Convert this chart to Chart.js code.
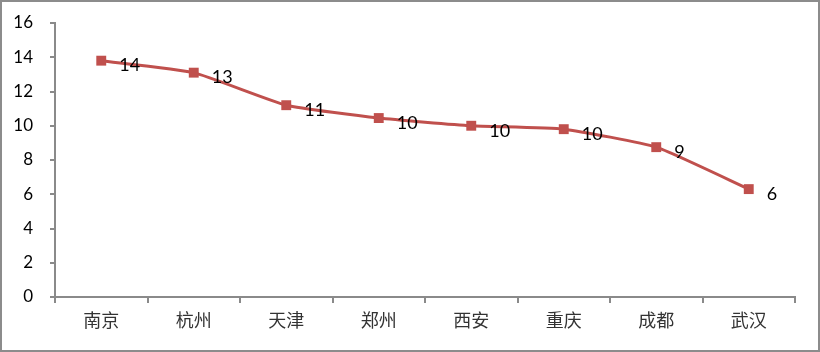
<!DOCTYPE html>
<html><head><meta charset="utf-8">
<script src="https://cdn.jsdelivr.net/npm/chart.js@4/dist/chart.umd.min.js"></script>
<style>html,body{margin:0;padding:0;background:#fff}#wrap{width:820px;height:352px;position:relative}</style>
</head><body><div id="wrap"><canvas id="c" width="820" height="352"></canvas></div>
<script>
const categories = ['南京','杭州','天津','郑州','西安','重庆','成都','武汉'];
const values = [13.8, 13.1, 11.2, 10.45, 10.0, 9.8, 8.75, 6.3];
const valueLabels = ['14','13','11','10','10','10','9','6'];
const yTicks = [0,2,4,6,8,10,12,14,16];

const FONT = "Lato, 'Noto Sans CJK SC', sans-serif";
const AXIS = '#8a8a8a';

const frame = {
  id:'frame',
  afterDraw(chart){
    const ctx = chart.ctx;
    ctx.save();
    ctx.strokeStyle = '#8c8c8c';
    ctx.lineWidth = 2;
    ctx.strokeRect(1,1,chart.width-2,chart.height-2);
    ctx.restore();
  }
};
const valueLabelPlugin = {
  id:'valueLabels',
  afterDatasetsDraw(chart){
    const ctx = chart.ctx;
    const meta = chart.getDatasetMeta(0);
    ctx.save();
    ctx.font = "18px " + FONT;
    ctx.fillStyle = '#000';
    ctx.textAlign = 'left';
    ctx.textBaseline = 'middle';
    meta.data.forEach((pt,i)=>{
      ctx.fillText(valueLabels[i], pt.x + 18, pt.y + 5);
    });
    ctx.restore();
  }
};

new Chart(document.getElementById('c'), {
  type:'line',
  data:{
    labels: categories,
    datasets:[{
      data: values,
      borderColor:'#C0504D',
      backgroundColor:'#C0504D',
      borderWidth:3,
      pointStyle:'rect',
      pointRadius:7,
      pointHoverRadius:7,
      pointBackgroundColor:'#C0504D',
      pointBorderColor:'#C0504D',
      pointBorderWidth:0,
      tension:0.15,
      fill:false
    }]
  },
  options:{
    responsive:false,
    animation:false,
    devicePixelRatio:1,
    layout:{padding:{top:23,right:25,left:0,bottom:0}},
    plugins:{legend:{display:false},tooltip:{enabled:false}},
    scales:{
      x:{
        type:'category',
        offset:true,
        grid:{display:true,drawOnChartArea:false,offset:true,tickLength:6,color:AXIS,lineWidth:2},
        border:{display:true,color:AXIS,width:2},
        ticks:{font:{family:FONT,size:18},color:'#333',padding:7,maxRotation:0},
        afterFit(s){s.height = 55; s.paddingLeft = 0; s.paddingRight = 0;}
      },
      y:{
        min:0,max:16,
        afterBuildTicks(s){s.ticks = yTicks.map(v=>({value:v}));},
        grid:{display:true,drawOnChartArea:false,tickLength:5,color:AXIS,lineWidth:2},
        border:{display:true,color:AXIS,width:2},
        ticks:{font:{family:FONT,size:17},color:'#000',padding:17},
        afterFit(s){s.width = 55; s.paddingTop = 0; s.paddingBottom = 0;}
      }
    }
  },
  plugins:[valueLabelPlugin, frame]
});
</script></body></html>
